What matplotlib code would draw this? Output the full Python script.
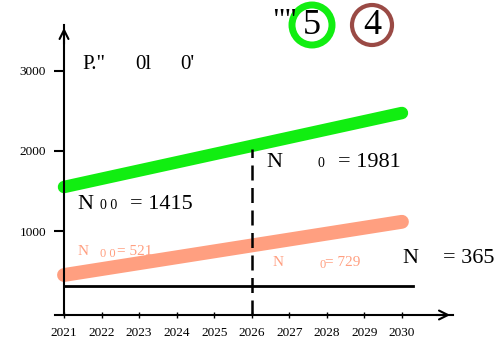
import matplotlib.pyplot as plt
from matplotlib.patches import Ellipse

plt.rcParams['font.family'] = ['Liberation Serif', 'DejaVu Serif']

years = [2021, 2022, 2023, 2024, 2025, 2026, 2027, 2028, 2029, 2030]
line_years = [2021, 2030]
green_vals = [1550, 2475]
salmon_vals = [450, 1115]
black_years = [2021, 2030.3]
black_vals = [310, 310]
y_ticks = [1000, 2000, 3000]
mark_year = 2026
mark_top = 2020

W, H = 497, 344
fig = plt.figure(figsize=(W / 100, H / 100), dpi=100)
# axes box placed in pixels: left 55, right 453, bottom 315, top 25
ax = fig.add_axes([55 / W, (H - 315) / H, (453 - 55) / W, (315 - 25) / H])
ax.set_xlim(2020.76, 2031.36)
ax.set_ylim(-50, 3575)

green = '#11ee11'
salmon = '#ff9f80'
brown = '#9a4a45'

ax.plot(line_years, green_vals, color=green, lw=9, solid_capstyle='round')
ax.plot(line_years, salmon_vals, color=salmon, lw=10, solid_capstyle='round')
ax.plot(black_years, black_vals, color='black', lw=2)
ax.plot([mark_year, mark_year], [-50, mark_top], color='black', lw=1.8,
        dashes=(6, 3))

# axes drawn like the reference: y axis at 2021, x axis at the bottom
for s in ['top', 'right']:
    ax.spines[s].set_visible(False)
ax.spines['left'].set_position(('data', 2021))
ax.spines['left'].set_linewidth(1.5)
ax.spines['bottom'].set_linewidth(1.5)
ax.annotate('', xy=(1.0, 0), xytext=(0.95, 0), xycoords='axes fraction',
            arrowprops=dict(arrowstyle='->', lw=1.5, mutation_scale=16))
ax.annotate('', xy=(2021, 3575), xytext=(2021, 3300), xycoords='data',
            arrowprops=dict(arrowstyle='->', lw=1.5, mutation_scale=16),
            annotation_clip=False)

ax.set_xticks(years)
ax.set_xticklabels([str(y) for y in years], fontsize=9.5)
ax.set_yticks(y_ticks)
ax.set_yticklabels([str(v) for v in y_ticks], fontsize=9.5)
ax.tick_params(axis='y', direction='out', length=7, width=1.5, pad=6)
ax.tick_params(axis='x', direction='inout', length=5, width=1, pad=6)

# labels
ax.text(2021.5, 3020, 'P."', fontsize=15)
ax.text(2022.9, 3020, '0l', fontsize=15)
ax.text(2024.1, 3020, "0'", fontsize=15)

ax.text(2021.35, 1280, 'N', fontsize=16)
ax.text(2021.95, 1280, '0 0', fontsize=10)
ax.text(2022.75, 1280, '= 1415', fontsize=16)

ax.text(2026.4, 1800, 'N', fontsize=16)
ax.text(2027.75, 1800, '0', fontsize=10)
ax.text(2028.3, 1800, '= 1981', fontsize=16)

ax.text(2021.35, 700, 'N', fontsize=11, color=salmon)
ax.text(2021.95, 680, '0 0', fontsize=9, color=salmon)
ax.text(2022.4, 700, '= 521', fontsize=11, color=salmon)

ax.text(2026.55, 560, 'N', fontsize=11, color=salmon)
ax.text(2027.8, 540, '0', fontsize=9, color=salmon)
ax.text(2027.95, 560, '= 729', fontsize=11, color=salmon)

ax.text(2030.0, 600, 'N', fontsize=16)
ax.text(2031.1, 600, '= 365', fontsize=16)

# top: quote marks and circled digits
fig.text(272 / W, 1 - 30 / H, '""', fontsize=22)
fig.add_artist(Ellipse((312 / W, 1 - 25 / H), 40 / W, 40 / H,
                       transform=fig.transFigure, fill=False,
                       edgecolor=green, lw=5))
fig.add_artist(Ellipse((372 / W, 1 - 25 / H), 40 / W, 40 / H,
                       transform=fig.transFigure, fill=False,
                       edgecolor=brown, lw=3))
fig.text(312 / W, 1 - 25 / H, '5', fontsize=26, ha='center', va='center')
fig.text(372 / W, 1 - 25 / H, '4', fontsize=26, ha='center', va='center')

fig.savefig('out.png', dpi=100)
